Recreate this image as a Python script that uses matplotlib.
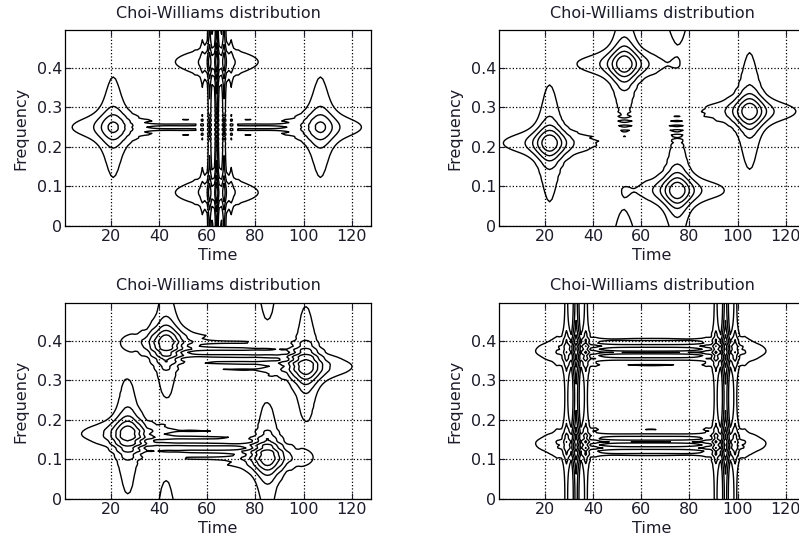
import numpy as np
import matplotlib
matplotlib.use("Agg")
import matplotlib.pyplot as plt

plt.rcParams["font.family"] = ["DejaVu Sans"]

N_SAMPLES = 128
ATOM_DURATION = 12
SIGMA = 1.0

# Gaussian atoms of each test signal: centre time (samples) and normalised frequency
atoms_1_t = [21, 107, 64, 64]
atoms_1_f = [0.25, 0.25, 0.415, 0.085]

atoms_2_t = [22, 53, 75, 105]
atoms_2_f = [0.21, 0.41, 0.09, 0.29]

atoms_3_t = [27, 43, 85, 101]
atoms_3_f = [0.165, 0.395, 0.105, 0.335]

atoms_4_t = [33, 33, 95, 95]
atoms_4_f = [0.14, 0.375, 0.14, 0.375]

# contour levels as fractions of each distribution's maximum
level_fracs = [0.05, 0.24, 0.43, 0.62, 0.81]

x_ticks = [20, 40, 60, 80, 100, 120]
y_ticks = [0, 0.1, 0.2, 0.3, 0.4]
y_tick_labels = ["0", "0.1", "0.2", "0.3", "0.4"]


def gaussian_atoms(n, t0s, f0s, duration):
    t = np.arange(1, n + 1)
    sig = np.zeros(n, dtype=complex)
    for t0, f0 in zip(t0s, f0s):
        sig += np.exp(-np.pi * ((t - t0) / duration) ** 2) * np.exp(2j * np.pi * f0 * (t - t0))
    return sig


def choi_williams(x, sigma=1.0, lg=40, lh=63):
    """Discrete Choi-Williams distribution, lag kernel smoothed over time."""
    n = len(x)
    g = np.hamming(2 * lg + 1)
    h = np.hamming(2 * lh + 1)
    h = h / h[lh]
    u = np.arange(-lg, lg + 1)
    s = np.arange(n)

    tfr = np.zeros((n, n), dtype=complex)
    tfr[0] = np.abs(x) ** 2
    for tau in range(1, min(lh, n // 2 - 1) + 1):
        valid = (s + tau < n) & (s - tau >= 0)
        prod = np.zeros(n, dtype=complex)
        prod[valid] = x[s[valid] + tau] * np.conj(x[s[valid] - tau])
        k = g * np.exp(-sigma * u ** 2 / (16.0 * tau ** 2))
        k = k / k.sum()
        r = np.convolve(prod, k)[lg:lg + n]
        tfr[tau] = h[lh + tau] * r
        tfr[n - tau] = h[lh - tau] * np.conj(r)
    return np.real(np.fft.fft(tfr, axis=0))


def draw_panel(ax, t0s, f0s):
    sig = gaussian_atoms(N_SAMPLES, t0s, f0s, ATOM_DURATION)
    tfr = choi_williams(sig, SIGMA)
    t = np.arange(1, N_SAMPLES + 1)
    f = np.arange(N_SAMPLES) / (2.0 * N_SAMPLES)
    levels = tfr.max() * np.array(level_fracs)
    ax.contour(t, f, tfr, levels=levels, colors="black", linewidths=1.0,
               linestyles="solid")

    ax.set_xlim(1, N_SAMPLES)
    ax.set_ylim(0, f[-1])
    ax.set_xticks(x_ticks)
    ax.set_yticks(y_ticks)
    ax.set_yticklabels(y_tick_labels)
    ax.tick_params(direction="in", labelsize=11.5, length=4, pad=2,
                   top=True, right=True, colors="#1c1c2a")
    ax.grid(True, linestyle=":", color="black", linewidth=0.9)
    for s in ax.spines.values():
        s.set_linewidth(0.9)
    ax.set_xlabel("Time", fontsize=11.5, labelpad=3, color="#1c1c2a")
    ax.set_ylabel("Frequency", fontsize=11.5, labelpad=6, color="#1c1c2a")
    ax.set_title("Choi-Williams distribution", fontsize=11.5, pad=9,
                 color="#1c1c2a")


fig = plt.figure(figsize=(7.99, 5.41), dpi=100)

w, hgt = 306 / 799, 196 / 541
positions = [
    (65 / 799, 315 / 541),
    (499 / 799, 315 / 541),
    (65 / 799, 42 / 541),
    (499 / 799, 42 / 541),
]
panels = [
    (atoms_1_t, atoms_1_f),
    (atoms_2_t, atoms_2_f),
    (atoms_3_t, atoms_3_f),
    (atoms_4_t, atoms_4_f),
]

for (x0, y0), (t0s, f0s) in zip(positions, panels):
    ax = fig.add_axes([x0, y0, w, hgt])
    draw_panel(ax, t0s, f0s)

fig.savefig("out.png", dpi=100)
